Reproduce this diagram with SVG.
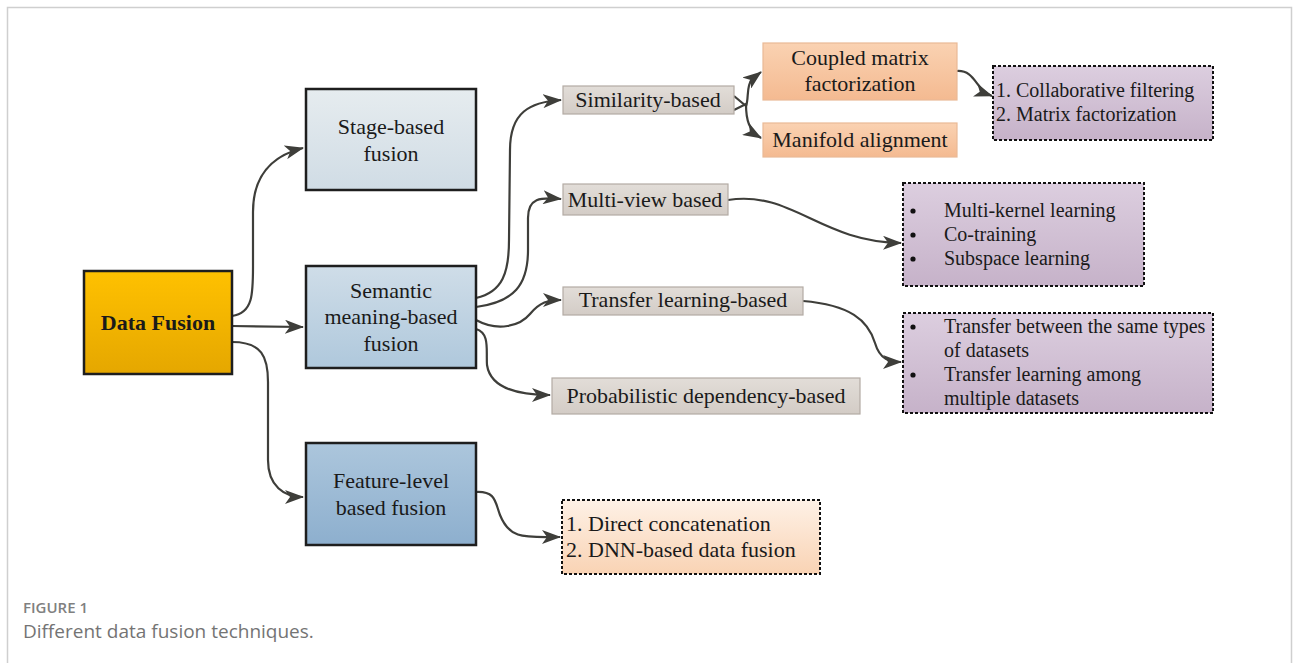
<svg xmlns="http://www.w3.org/2000/svg" width="1293" height="663" viewBox="0 0 1293 663">
<defs>
<linearGradient id="gOr" x1="0" y1="0" x2="0" y2="1"><stop offset="0" stop-color="#FFC100"/><stop offset="1" stop-color="#E5A700"/></linearGradient>
<linearGradient id="gB1" x1="0" y1="0" x2="0" y2="1"><stop offset="0" stop-color="#E6ECEF"/><stop offset="1" stop-color="#D0DCE5"/></linearGradient>
<linearGradient id="gB2" x1="0" y1="0" x2="0" y2="1"><stop offset="0" stop-color="#CFDDE8"/><stop offset="1" stop-color="#AFC8DC"/></linearGradient>
<linearGradient id="gB3" x1="0" y1="0" x2="0" y2="1"><stop offset="0" stop-color="#ACC6DC"/><stop offset="1" stop-color="#8DAFCE"/></linearGradient>
<linearGradient id="gGr" x1="0" y1="0" x2="0" y2="1"><stop offset="0" stop-color="#E2DDD8"/><stop offset="1" stop-color="#D3CCC6"/></linearGradient>
<linearGradient id="gPe" x1="0" y1="0" x2="0" y2="1"><stop offset="0" stop-color="#FAD2B2"/><stop offset="1" stop-color="#F4BA91"/></linearGradient>
<linearGradient id="gPu" x1="0" y1="0" x2="0" y2="1"><stop offset="0" stop-color="#DCCEDF"/><stop offset="1" stop-color="#C6B2C9"/></linearGradient>
<linearGradient id="gPe2" x1="0" y1="0" x2="0" y2="1"><stop offset="0" stop-color="#FEF1E6"/><stop offset="1" stop-color="#F9D3B4"/></linearGradient>
<marker id="ah" markerWidth="20" markerHeight="14" refX="18" refY="7" orient="auto" markerUnits="userSpaceOnUse"><path d="M0,0 L19,7 L0,14 L5,7 Z" fill="#3E3E3A"/></marker>
</defs>
<style>
.t{font-family:"Liberation Serif","Times New Roman",serif;font-size:22px;fill:#1a1a1a}
.s{font-size:20px}
.c{text-anchor:middle}
.main{stroke:#1e1e1e;stroke-width:2.5}
.gray{stroke:#B3ABA4;stroke-width:1.2}
.peach{stroke:#E9B996;stroke-width:1.2}
.dot{stroke:#111;stroke-width:2;stroke-dasharray:3 2}
.conn path{fill:none;stroke:#3E3E3A;stroke-width:2.2}
.cap{font-family:"Open Sans","Liberation Sans",sans-serif}
</style>
<rect x="0" y="0" width="1293" height="663" fill="#fff"/>
<path d="M7.5,663 L7.5,7.5 L1291.5,7.5 L1291.5,663" fill="none" stroke="#cfcfcf" stroke-width="1.5"/>

<g class="conn">
<path d="M232,316 C254,313 253,292 253,262 L253,212 C253,172 275,155 303,148" marker-end="url(#ah)"/>
<path d="M232,326 L303,327" marker-end="url(#ah)"/>
<path d="M232,342 C262,342 268,357 268,382 L268,460 C268,486 284,497 303,497" marker-end="url(#ah)"/>
<path d="M476,298 C503,292 509,272 509,240 L510,150 C510,112 530,102 561,100" marker-end="url(#ah)"/>
<path d="M476,307 C514,302 528,285 528,250 L528,218 C528,198 540,197 561,199" marker-end="url(#ah)"/>
<path d="M476,320 C498,332 520,326 530,314 C540,302 548,300 561,300" marker-end="url(#ah)"/>
<path d="M476,329 C490,333 486,350 487,365 C490,385 510,395 550,395" marker-end="url(#ah)"/>
<path d="M734,96 L746,106 C749,99 746,86 752,79 L761,72" marker-end="url(#ah)"/>
<path d="M734,110 L746,104 C746,120 749,131 761,138" marker-end="url(#ah)"/>
<path d="M957,71 C976,70 975,90 992,96" marker-end="url(#ah)"/>
<path d="M728,200 C792,190 820,242 901,243" marker-end="url(#ah)"/>
<path d="M803,301 C850,305 868,320 875,343 C880,360 890,362 901,362" marker-end="url(#ah)"/>
<path d="M476,492 C496,491 495,502 500,515 C510,540 525,537 560,537" marker-end="url(#ah)"/>
</g>

<g id="data-fusion"><rect x="84" y="271" width="148" height="103" fill="url(#gOr)" class="main"/><text class="t c" x="158" y="330" font-weight="bold">Data Fusion</text></g>
<g id="stage"><rect x="306" y="89" width="170" height="101" fill="url(#gB1)" class="main"/><text class="t c" x="391" y="134">Stage-based</text><text class="t c" x="391" y="161">fusion</text></g>
<g id="semantic"><rect x="306" y="266" width="170" height="102" fill="url(#gB2)" class="main"/><text class="t c" x="391" y="298">Semantic</text><text class="t c" x="391" y="324">meaning-based</text><text class="t c" x="391" y="351">fusion</text></g>
<g id="feature"><rect x="306" y="443" width="170" height="102" fill="url(#gB3)" class="main"/><text class="t c" x="391" y="488">Feature-level</text><text class="t c" x="391" y="515">based fusion</text></g>

<g id="similarity"><rect x="563" y="86" width="171" height="28" fill="url(#gGr)" class="gray"/><text class="t c" x="648" y="107">Similarity-based</text></g>
<g id="multiview"><rect x="563" y="184" width="165" height="31" fill="url(#gGr)" class="gray"/><text class="t c" x="645" y="207">Multi-view based</text></g>
<g id="transfer"><rect x="563" y="287" width="240" height="28" fill="url(#gGr)" class="gray"/><text class="t c" x="683" y="307">Transfer learning-based</text></g>
<g id="probabilistic"><rect x="552" y="378" width="308" height="36" fill="url(#gGr)" class="gray"/><text class="t c" x="706" y="403">Probabilistic dependency-based</text></g>

<g id="coupled"><rect x="763" y="43" width="194" height="57" fill="url(#gPe)" class="peach"/><text class="t c" x="860" y="65">Coupled matrix</text><text class="t c" x="860" y="91">factorization</text></g>
<g id="manifold"><rect x="763" y="123" width="194" height="34" fill="url(#gPe)" class="peach"/><text class="t c" x="860" y="147">Manifold alignment</text></g>

<g id="cf-list"><rect x="993" y="66" width="220" height="74" fill="url(#gPu)" class="dot"/><text class="t s" x="996" y="97">1. Collaborative filtering</text><text class="t s" x="996" y="121">2. Matrix factorization</text></g>
<g id="mv-list"><rect x="903" y="183" width="241" height="103" fill="url(#gPu)" class="dot"/>
<circle cx="913" cy="211" r="2.6" fill="#111"/><circle cx="913" cy="235" r="2.6" fill="#111"/><circle cx="913" cy="259" r="2.6" fill="#111"/>
<text class="t s" x="944" y="217">Multi-kernel learning</text><text class="t s" x="944" y="241">Co-training</text><text class="t s" x="944" y="265">Subspace learning</text></g>
<g id="tl-list"><rect x="903" y="313" width="310" height="100" fill="url(#gPu)" class="dot"/>
<circle cx="913" cy="327" r="2.6" fill="#111"/><circle cx="913" cy="375" r="2.6" fill="#111"/>
<text class="t s" x="944" y="333">Transfer between the same types</text><text class="t s" x="944" y="357">of datasets</text><text class="t s" x="944" y="381">Transfer learning among</text><text class="t s" x="944" y="405">multiple datasets</text></g>
<g id="fl-list"><rect x="562" y="500" width="258" height="74" fill="url(#gPe2)" class="dot"/><text class="t" x="566" y="531">1. Direct concatenation</text><text class="t" x="566" y="557">2. DNN-based data fusion</text></g>

<text class="cap" x="23" y="613" font-size="15" font-weight="600" fill="#808080">FIGURE 1</text>
<text class="cap" x="23" y="638" font-size="19" fill="#747474">Different data fusion techniques.</text>
</svg>
